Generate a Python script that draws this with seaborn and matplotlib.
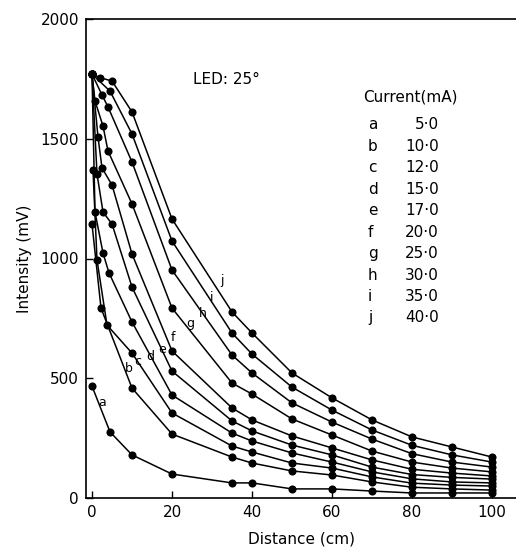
import matplotlib
matplotlib.use("Agg")
import matplotlib.pyplot as plt
import seaborn as sns
import pandas as pd

# Distance (cm) and intensity (mV) for each drive current
dist_a = [0, 4.5, 10, 20, 35, 40, 50, 60, 70, 80, 90, 100]
int_a = [467, 276, 180, 100, 63, 63, 38, 38, 29, 21, 21, 21]

dist_b = [0, 2.25, 10, 20, 35, 40, 50, 60, 70, 80, 90, 100]
int_b = [1144, 793, 459, 267, 171, 146, 113, 96, 67, 45, 38, 33]

dist_c = [0.25, 1.25, 3.75, 10, 20, 35, 40, 50, 60, 70, 80, 90, 100]
int_c = [1369, 994, 722, 605, 355, 217, 192, 146, 125, 88, 62, 54, 50]

dist_d = [0, 0.75, 2.75, 4.25, 10, 20, 35, 40, 50, 60, 70, 80, 90, 100]
int_d = [1770, 1194, 1023, 940, 735, 430, 271, 238, 188, 150, 109, 80, 67, 63]

dist_e = [0, 1.25, 2.75, 5, 10, 20, 35, 40, 50, 60, 70, 80, 90, 100]
int_e = [1770, 1353, 1194, 1144, 881, 530, 322, 280, 221, 180, 129, 98, 86, 79]

dist_f = [0, 1.5, 2.5, 5, 10, 20, 35, 40, 50, 60, 70, 80, 90, 100]
int_f = [1770, 1507, 1378, 1307, 1019, 614, 376, 326, 259, 209, 159, 120, 104, 92]

dist_g = [0, 0.75, 2.75, 4, 10, 20, 35, 40, 50, 60, 70, 80, 90, 100]
int_g = [1770, 1658, 1553, 1449, 1228, 793, 480, 434, 330, 263, 196, 150, 125, 109]

dist_h = [0, 2.5, 4, 10, 20, 35, 40, 50, 60, 70, 80, 90, 100]
int_h = [1770, 1683, 1633, 1403, 952, 597, 522, 397, 317, 246, 185, 150, 129]

dist_i = [0, 4.5, 10, 20, 35, 40, 50, 60, 70, 80, 90, 100]
int_i = [1770, 1699, 1520, 1073, 689, 601, 463, 367, 284, 220, 180, 150]

dist_j = [0, 2, 5, 10, 20, 35, 40, 50, 60, 70, 80, 90, 100]
int_j = [1770, 1755, 1741, 1612, 1165, 777, 689, 522, 418, 326, 255, 213, 171]

curve_names = ["a", "b", "c", "d", "e", "f", "g", "h", "i", "j"]
currents = ["5·0", "10·0", "12·0", "15·0", "17·0", "20·0", "25·0", "30·0", "35·0", "40·0"]
# where the little letters sit next to each curve (data coords)
label_x = [2.5, 9.2, 11.5, 14.5, 17.5, 20.3, 24.5, 27.8, 30.0, 32.5]
label_y = [400, 540, 568, 590, 622, 672, 730, 772, 839, 910]

all_dist = [dist_a, dist_b, dist_c, dist_d, dist_e, dist_f, dist_g, dist_h, dist_i, dist_j]
all_int = [int_a, int_b, int_c, int_d, int_e, int_f, int_g, int_h, int_i, int_j]

rows = []
for name, ds, vs in zip(curve_names, all_dist, all_int):
    for d, v in zip(ds, vs):
        rows.append({"curve": name, "distance": d, "intensity": v})
df = pd.DataFrame(rows)

sns.set_style("ticks")
plt.rcParams["font.family"] = ["DejaVu Sans"]
plt.rcParams["text.color"] = "black"
plt.rcParams["axes.labelcolor"] = "black"
plt.rcParams["axes.edgecolor"] = "black"
plt.rcParams["xtick.color"] = "black"
plt.rcParams["ytick.color"] = "black"

fig = plt.figure(figsize=(5.16, 5.54), dpi=100)
ax = fig.add_axes([86 / 516, 56 / 554, 430 / 516, 479 / 554])

sns.lineplot(data=df, x="distance", y="intensity", units="curve", estimator=None,
             color="black", linewidth=1.1, sort=True, ax=ax, legend=False)
sns.scatterplot(data=df, x="distance", y="intensity", color="black", s=34,
                edgecolor="black", linewidth=0, ax=ax, legend=False, zorder=3)

for name, lx, ly in zip(curve_names, label_x, label_y):
    ax.text(lx, ly, name, fontsize=9, ha="center", va="center")

ax.text(0.249, 0.873, "LED: 25°", transform=ax.transAxes, fontsize=11,
        ha="left", va="center")
ax.text(0.644, 0.837, "Current(mA)", transform=ax.transAxes, fontsize=11,
        ha="left", va="center")
for k, (name, cur) in enumerate(zip(curve_names, currents)):
    yy = 0.779 - k * 0.0448
    ax.text(0.656, yy, name, transform=ax.transAxes, fontsize=11,
            ha="left", va="center")
    ax.text(0.82, yy, cur, transform=ax.transAxes, fontsize=11,
            ha="right", va="center")

ax.set_xlim(-1.5, 106)
ax.set_ylim(0, 2000)
ax.set_xticks([0, 20, 40, 60, 80, 100])
ax.set_yticks([0, 500, 1000, 1500, 2000])
ax.tick_params(direction="in", length=5, width=1, labelsize=11, pad=5)
ax.set_xlabel("Distance (cm)", fontsize=11, labelpad=8)
ax.set_ylabel("Intensity (mV)", fontsize=11, labelpad=6)
ax.spines["right"].set_visible(False)
for s in ["left", "bottom", "top"]:
    ax.spines[s].set_linewidth(1.2)

fig.savefig("out.png", dpi=100)
